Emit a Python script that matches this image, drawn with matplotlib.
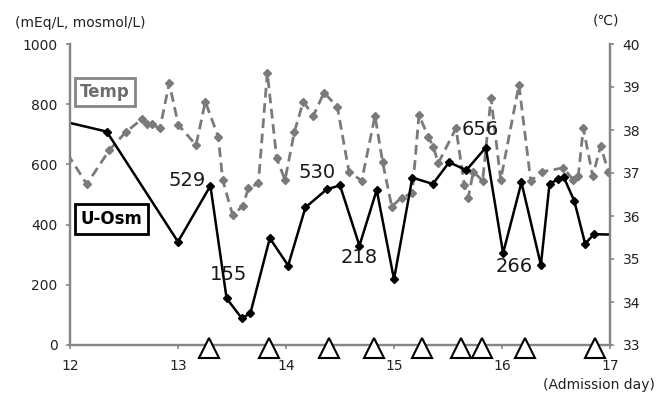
import numpy as np
import matplotlib.pyplot as plt

# urine osmolality (mosmol/L) against admission day
osm_day = [11.5, 12.34, 13.00, 13.30, 13.45, 13.59, 13.67, 13.85, 14.02, 14.18,
           14.38, 14.50, 14.68, 14.84, 15.00, 15.17, 15.36, 15.51, 15.67, 15.85,
           16.01, 16.18, 16.36, 16.44, 16.52, 16.57, 16.67, 16.77, 16.85, 17.30]
osm_val = [780, 709, 343, 529, 155, 89, 105, 355, 264, 457,
           518, 530, 330, 515, 218, 556, 535, 607, 581, 656,
           305, 540, 266, 535, 551, 559, 478, 336, 368, 365]
osm_labeled = [529, 155, 530, 218, 656, 266]

# body temperature (deg C)
temp_day = [11.90, 12.155, 12.364, 12.516, 12.664, 12.710, 12.756, 12.833, 12.919, 13.003,
            13.167, 13.253, 13.373, 13.414, 13.506, 13.599, 13.651, 13.744, 13.827, 13.914,
            13.991, 14.077, 14.160, 14.253, 14.352, 14.475, 14.583, 14.701, 14.824, 14.895,
            14.979, 15.071, 15.169, 15.231, 15.318, 15.364, 15.410, 15.574, 15.651, 15.688,
            15.734, 15.821, 15.898, 15.988, 16.157, 16.266, 16.373, 16.568, 16.660, 16.706,
            16.753, 16.840, 16.914, 16.984]
temp_val = [37.75, 36.74, 37.53, 37.95, 38.25, 38.13, 38.13, 38.04, 39.09, 38.12,
            37.65, 38.66, 37.84, 36.84, 36.02, 36.23, 36.64, 36.76, 39.33, 37.34,
            36.84, 37.95, 38.66, 38.33, 38.87, 38.54, 37.03, 36.82, 38.33, 37.25,
            36.22, 36.43, 36.53, 38.35, 37.84, 37.61, 37.23, 38.04, 36.72, 36.43,
            37.03, 36.82, 38.75, 36.84, 39.05, 36.82, 37.03, 37.12, 36.84, 36.93,
            38.04, 36.93, 37.63, 37.03]

# event days shown as triangles on the baseline
event_day = [13.287, 13.843, 14.398, 14.815, 15.255, 15.616, 15.815, 16.213, 16.861]

# label offsets (points) for the annotated values
label_offset = {529: (-17, 4), 155: (1.5, 17), 530: (-16.5, 9),
                218: (-25, 15.5), 656: (-4, 13), 266: (-19, -1)}

axis_grey = '#868686'
temp_grey = '#7a7a7a'

fig = plt.figure(figsize=(6.6, 3.96), dpi=100)
ax = fig.add_axes([70 / 660, 1 - 345 / 396, 540 / 660, 301 / 396])
ax_t = ax.twinx()
ax.set_zorder(ax_t.get_zorder() + 1)
ax.patch.set_visible(False)

ax_t.plot(temp_day, temp_val, color=temp_grey, lw=2, ls=(0, (3.5, 2)),
          marker='D', ms=4.5, mfc=temp_grey, mec=temp_grey)
ax.plot(osm_day, osm_val, color='black', lw=1.8, marker='D', ms=4.5)

for v in osm_labeled:
    i = osm_val.index(v)
    ax.annotate(str(v), (osm_day[i], osm_val[i]), xytext=label_offset[v],
                textcoords='offset points', ha='center', va='center',
                fontsize=14, color='#1a1a1a')

ax.plot(event_day, np.full(len(event_day), -10), ls='none', marker='^', ms=14,
        mfc='white', mec='black', mew=1.5, clip_on=False, zorder=5)

ax.set_xlim(12, 17)
ax.set_ylim(0, 1000)
ax_t.set_ylim(33, 40)
ax.set_xticks(range(12, 18))
ax.set_yticks(range(0, 1001, 200))
ax_t.set_yticks(range(33, 41))

for a in (ax, ax_t):
    a.spines['top'].set_visible(False)
    for side in ('left', 'right', 'bottom'):
        a.spines[side].set_color(axis_grey)
        a.spines[side].set_linewidth(1.6)
    a.tick_params(colors=axis_grey, labelcolor='#222222', labelsize=10,
                  length=3, width=1.2)
ax.tick_params(axis='x', pad=7)
ax_t.tick_params(axis='y', pad=6)
ax.tick_params(axis='y', pad=6)

fig.text(80 / 660, 1 - 23 / 396, '(mEq/L, mosmol/L)', ha='center', va='center',
         fontsize=10, color='#222222')
fig.text(606 / 660, 1 - 20 / 396, '(\u2103)', ha='center', va='center',
         fontsize=10, color='#222222')
fig.text(655 / 660, 1 - 385 / 396, '(Admission day)', ha='right', va='center',
         fontsize=10, color='#222222')

fig.text(105 / 660, 1 - 92 / 396, 'Temp', ha='center', va='center',
         fontsize=12, fontweight='bold', color='#6e6e6e',
         bbox=dict(boxstyle='square,pad=0.3', fc='white', ec=axis_grey, lw=2))
fig.text(111.5 / 660, 1 - 218.7 / 396, 'U-Osm', ha='center', va='center',
         fontsize=12, fontweight='bold', color='black',
         bbox=dict(boxstyle='square,pad=0.35', fc='white', ec='black', lw=2))

fig.savefig('out.png', dpi=100)
